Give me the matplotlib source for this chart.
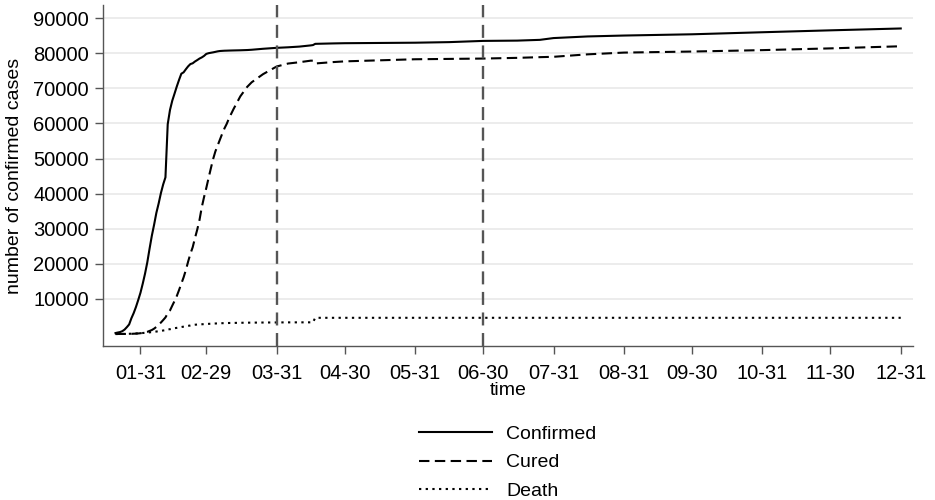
import pandas as pd
import matplotlib
matplotlib.use("Agg")
import matplotlib.pyplot as plt
import matplotlib.dates as mdates

# cumulative counts, mainland China, 2020
dates = [
    "2020-01-20", "2020-01-21", "2020-01-22", "2020-01-23", "2020-01-24", "2020-01-25",
    "2020-01-26", "2020-01-27", "2020-01-28", "2020-01-29", "2020-01-30", "2020-01-31",
    "2020-02-01", "2020-02-02", "2020-02-03", "2020-02-04", "2020-02-05", "2020-02-06",
    "2020-02-07", "2020-02-08", "2020-02-09", "2020-02-10", "2020-02-11", "2020-02-12",
    "2020-02-13", "2020-02-14", "2020-02-15", "2020-02-16", "2020-02-17", "2020-02-18",
    "2020-02-19", "2020-02-20", "2020-02-21", "2020-02-22", "2020-02-23", "2020-02-24",
    "2020-02-25", "2020-02-26", "2020-02-27", "2020-02-28", "2020-02-29", "2020-03-01",
    "2020-03-02", "2020-03-03", "2020-03-04", "2020-03-05", "2020-03-06", "2020-03-07",
    "2020-03-08", "2020-03-09", "2020-03-10", "2020-03-12", "2020-03-15", "2020-03-18",
    "2020-03-20", "2020-03-25", "2020-03-31", "2020-04-05", "2020-04-10", "2020-04-15",
    "2020-04-16", "2020-04-17", "2020-04-25", "2020-04-30", "2020-05-31", "2020-06-15",
    "2020-06-30", "2020-07-15", "2020-07-25", "2020-07-31", "2020-08-15", "2020-08-31",
    "2020-09-30", "2020-10-31", "2020-11-30", "2020-12-31",
]
confirmed = [
    291, 440, 571, 830, 1287, 1975,
    2744, 4515, 5974, 7711, 9692, 11791,
    14380, 17205, 20438, 24324, 28018, 31161,
    34546, 37198, 40171, 42638, 44653, 59804,
    63851, 66492, 68500, 70548, 72436, 74185,
    74576, 75465, 76288, 76936, 77150, 77658,
    78064, 78497, 78824, 79251, 79824, 80026,
    80151, 80270, 80409, 80552, 80651, 80695,
    80735, 80754, 80778, 80813, 80860, 80928,
    81008, 81285, 81554, 81708, 81907, 82249,
    82341, 82692, 82816, 82874, 83017, 83181,
    83531, 83612, 83830, 84337, 84800, 85058,
    85414, 85997, 86542, 87071,
]
cured = [
    25, 28, 28, 34, 38, 49,
    51, 60, 103, 124, 171, 243,
    328, 475, 632, 892, 1153, 1540,
    2050, 2649, 3281, 3996, 4740, 5911,
    6723, 8096, 9419, 10844, 12552, 14376,
    16155, 18264, 20659, 22888, 24734, 27323,
    29745, 32495, 36117, 39002, 41625, 44462,
    47204, 49856, 52045, 53726, 55404, 57065,
    58600, 59897, 61475, 64111, 67749, 70420,
    71740, 74051, 76238, 77078, 77455, 77900,
    77892, 77100, 77500, 77700, 78300, 78400,
    78500, 78700, 78900, 79000, 79700, 80200,
    80500, 80900, 81400, 82000,
]
death = [
    6, 9, 17, 25, 41, 56,
    80, 106, 132, 170, 213, 259,
    304, 361, 425, 490, 563, 636,
    722, 811, 908, 1016, 1113, 1367,
    1380, 1523, 1665, 1770, 1868, 2004,
    2118, 2236, 2345, 2442, 2592, 2663,
    2715, 2744, 2788, 2835, 2870, 2912,
    2943, 2981, 3012, 3042, 3070, 3097,
    3119, 3136, 3158, 3176, 3213, 3245,
    3255, 3287, 3312, 3331, 3336, 3341,
    3342, 4632, 4632, 4633, 4634, 4634,
    4634, 4634, 4634, 4634, 4634, 4634,
    4634, 4634, 4634, 4634,
]
tick_dates = ["2020-01-31", "2020-02-29", "2020-03-31", "2020-04-30", "2020-05-31", "2020-06-30",
              "2020-07-31", "2020-08-31", "2020-09-30", "2020-10-31", "2020-11-30", "2020-12-31"]
marker_dates = ["2020-03-31", "2020-06-30"]
y_ticks = [10000, 20000, 30000, 40000, 50000, 60000, 70000, 80000, 90000]

plt.rcParams['font.family'] = ['Liberation Sans', 'DejaVu Sans']
plt.rcParams['font.size'] = 14

t = pd.to_datetime(dates)

fig = plt.figure(figsize=(9.35, 5.0), dpi=100)
ax = fig.add_axes([0.1098, 0.308, 0.8667, 0.682])

ax.plot(t, confirmed, color='black', linewidth=1.5, label='Confirmed')
ax.plot(t, cured, color='black', linewidth=1.5, linestyle=(0, (5, 2.6)), label='Cured')
ax.plot(t, death, color='black', linewidth=1.5, linestyle=(0, (1.1, 2.1)), label='Death')

for d in marker_dates:
    ax.axvline(pd.Timestamp(d), color='#555555', linewidth=1.7, linestyle=(0, (5.5, 3.2)), zorder=3)

ax.set_xlim(pd.Timestamp("2020-01-14 08:00"), pd.Timestamp("2021-01-05 10:00"))
ax.set_ylim(-3400, 93760)
ax.set_yticks(y_ticks)
ax.set_yticklabels([str(v) for v in y_ticks])
ax.set_xticks(pd.to_datetime(tick_dates))
ax.xaxis.set_major_formatter(mdates.DateFormatter('%m-%d'))

ax.grid(axis='y', color='#eaeaea', linewidth=1.3)
ax.set_axisbelow(True)
for side in ['top', 'right']:
    ax.spines[side].set_visible(False)
for side in ['left', 'bottom']:
    ax.spines[side].set_color('#555555')
    ax.spines[side].set_linewidth(1.0)
ax.tick_params(axis='x', length=6, width=1.0, color='#555555', pad=7, labelsize=14.5)
ax.tick_params(axis='y', length=6, width=1.0, color='#555555', pad=4, labelsize=14.5)

ax.set_xlabel('time', fontsize=14, labelpad=-1)
ax.set_ylabel('number of confirmed cases', fontsize=14, labelpad=7)

ax.legend(loc='upper center', bbox_to_anchor=(0.5, -0.181), frameon=False, ncol=1,
          handlelength=3.75, handletextpad=0.72, labelspacing=0.56, fontsize=14)

fig.savefig('out.png', dpi=100)
